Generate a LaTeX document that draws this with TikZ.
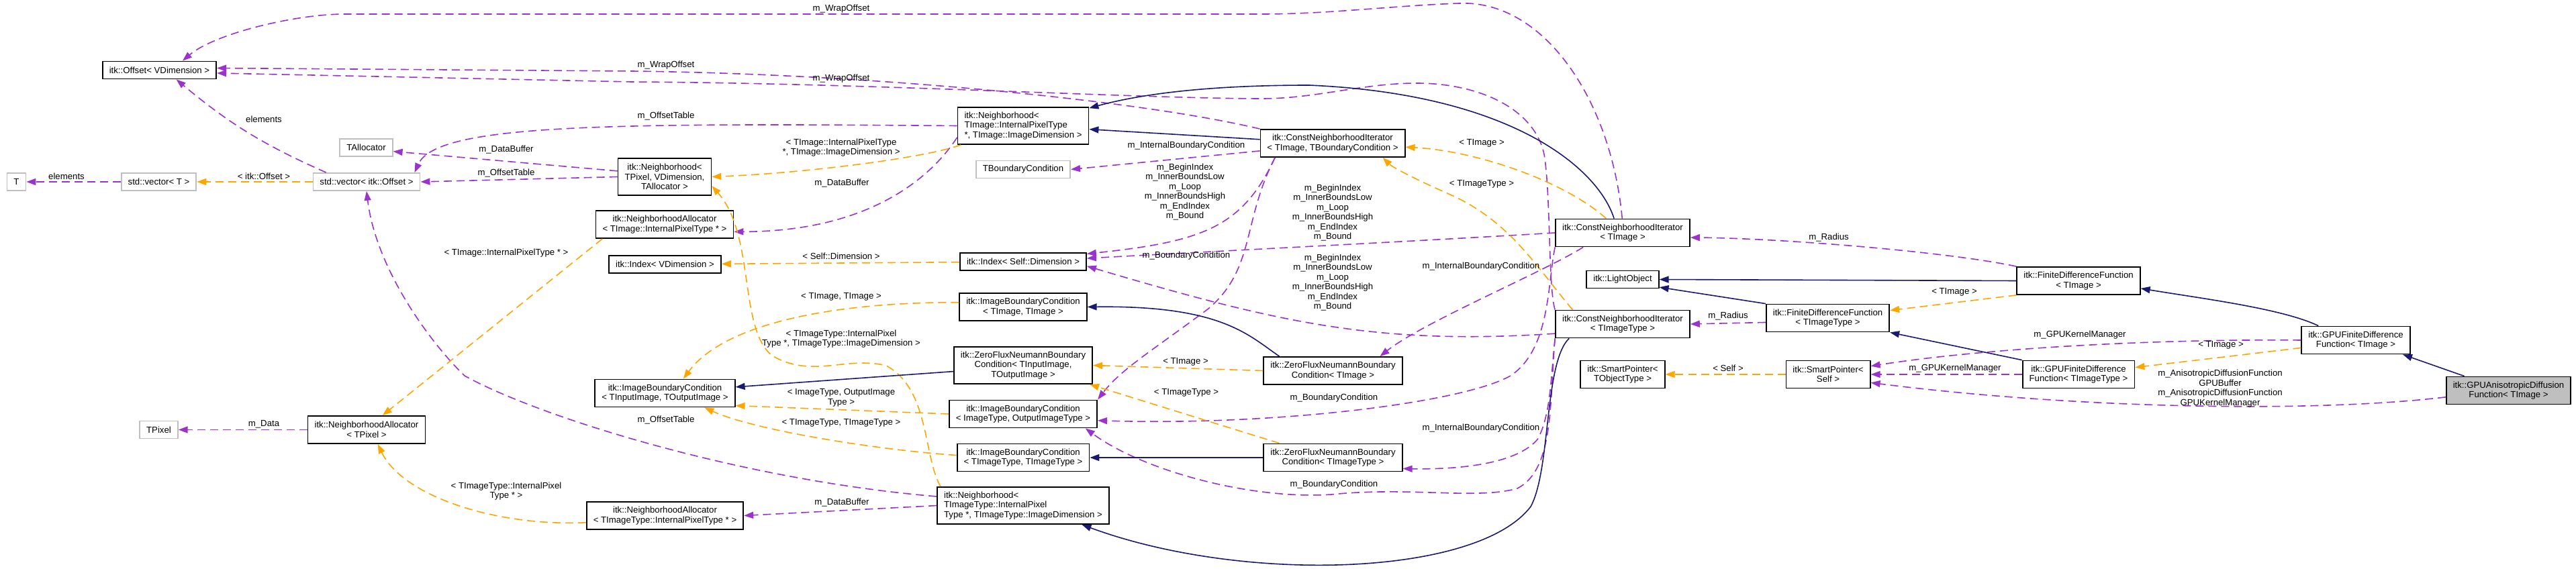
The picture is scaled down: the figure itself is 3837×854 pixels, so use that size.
\documentclass[tikz,border=0pt]{standalone}
\usepackage{fontspec}
\setmainfont{Liberation Sans}
\usetikzlibrary{arrows.meta}
\usepackage{xcolor}
\definecolor{roxo}{RGB}{154, 50, 205}
\definecolor{laranja}{RGB}{255, 165, 0}
\definecolor{azul}{RGB}{25, 25, 112}
\definecolor{cinza}{RGB}{191, 191, 191}
\tikzset{
  classe/.style={
    draw=black, line width=0.9pt, fill=white, rectangle, inner xsep=5pt, inner ysep=2pt,
    minimum height=13pt, align=center, font=\fontsize{6.6}{7.25}\selectfont
  },
  classeCinza/.style={classe, draw=cinza},
  classeDestaque/.style={classe, fill=cinza},
  duas/.style={minimum height=20.5pt},
  tres/.style={minimum height=27.5pt},
  rotulo/.style={inner sep=0pt, align=center, font=\fontsize{6.6}{7.25}\selectfont},
  ponta/.style={-{Stealth[length=7pt, width=5pt, inset=0pt]}, line width=0.8pt},
  uso/.style={ponta, roxo, dash pattern=on 6pt off 3.5pt},
  modelo/.style={ponta, laranja, dash pattern=on 6pt off 3.5pt},
  heranca/.style={ponta, azul},
}

\begin{document}
\begin{tikzpicture}[x=0.5pt, y=-0.5pt]
        \useasboundingbox (0,0) rectangle (3837,854);

        \node[classeCinza] (nT) at (24.5,271) {T};
        \node[classeCinza] (vecT) at (236.5,271) {std::vector< T >};
        \node[classeCinza] (vecOff) at (546,271) {std::vector< itk::Offset >};
        \node[classe] (offV) at (237.5,104.5) {itk::Offset< VDimension >};
        \node[classeCinza] (tAlloc) at (545.5,220) {TAllocator};
        \node[classeCinza] (tPix) at (236.5,640.5) {TPixel};
        \node[classe, duas] (naPix) at (546,640.5) {itk::NeighborhoodAllocator\\< TPixel >};

        \node[classe, tres] (nbhPix) at (990,263.5) {itk::Neighborhood<\\TPixel, VDimension,\\TAllocator >};
        \node[classe, duas] (naImg) at (990,334.5) {itk::NeighborhoodAllocator\\< TImage::InternalPixelType * >};
        \node[classe] (idxV) at (990.5,394) {itk::Index< VDimension >};
        \node[classe, duas] (ibcIO) at (990.5,586) {itk::ImageBoundaryCondition\\< TInputImage, TOutputImage >};
        \node[classe, duas] (naImgT) at (990.5,768.5) {itk::NeighborhoodAllocator\\< TImageType::InternalPixelType * >};

        \node[classe, tres, align=left] (nbhImg) at (1524,187.5) {itk::Neighborhood<\\TImage::InternalPixelType\\*, TImage::ImageDimension >};
        \node[classeCinza] (tBC) at (1524,252.5) {TBoundaryCondition};
        \node[classe] (idxSelf) at (1524,390) {itk::Index< Self::Dimension >};
        \node[classe, duas] (ibcII) at (1524,457.5) {itk::ImageBoundaryCondition\\< TImage, TImage >};
        \node[classe, tres] (zfIO) at (1524,544.5) {itk::ZeroFluxNeumannBoundary\\Condition< TInputImage,\\TOutputImage >};
        \node[classe, duas] (ibcOut) at (1524,617) {itk::ImageBoundaryCondition\\< ImageType, OutputImageType >};
        \node[classe, duas] (ibcTT) at (1524,682) {itk::ImageBoundaryCondition\\< TImageType, TImageType >};
        \node[classe, tres, align=left] (nbhImgT) at (1524,753.5) {itk::Neighborhood<\\TImageType::InternalPixel\\Type *, TImageType::ImageDimension >};

        \node[classe, duas] (cniBC) at (1985,213.5) {itk::ConstNeighborhoodIterator\\< TImage, TBoundaryCondition >};
        \node[classe, duas] (zfImg) at (1985.5,552.5) {itk::ZeroFluxNeumannBoundary\\Condition< TImage >};
        \node[classe, duas] (zfImgT) at (1985.5,682) {itk::ZeroFluxNeumannBoundary\\Condition< TImageType >};

        \node[classe, duas] (cniImg) at (2417,347) {itk::ConstNeighborhoodIterator\\< TImage >};
        \node[classe] (lightObj) at (2417,416.5) {itk::LightObject};
        \node[classe, duas] (cniImgT) at (2417,483) {itk::ConstNeighborhoodIterator\\< TImageType >};
        \node[classe, duas] (spObj) at (2417,558) {itk::SmartPointer<\\TObjectType >};
        \node[classe, duas] (fdfImgT) at (2722.5,474) {itk::FiniteDifferenceFunction\\< TImageType >};
        \node[classe, duas] (spSelf) at (2723,558) {itk::SmartPointer<\\Self >};
        \node[classe, duas] (fdfImg) at (3096,418.5) {itk::FiniteDifferenceFunction\\< TImage >};
        \node[classe, duas] (gfdfImgT) at (3096,558) {itk::GPUFiniteDifference\\Function< TImageType >};
        \node[classe, duas] (gfdfImg) at (3509,507) {itk::GPUFiniteDifference\\Function< TImage >};
        \node[classeDestaque, duas] (gAniso) at (3736.5,582) {itk::GPUAnisotropicDiffusion\\Function< TImage >};

        % membros (roxo)
        \draw[uso] (vecT) -- (nT);
        \draw[uso] (vecOff.167) to[bend left=8] (offV.-29);
        \draw[uso] (nbhPix.west) -- (vecOff.east);
        \draw[uso] (nbhPix.173) -- (tAlloc.-8);
        \draw[uso] (nbhImg.west) .. controls (900,183) and (650,185) .. (vecOff.11);
        \draw[uso] (nbhImg.190) .. controls (1390,260) and (1300,345) .. (naImg.-6);
        \draw[uso] (nbhImgT.174) .. controls (1100,715) and (800,620) .. (692,560) .. controls (640,510) and (560,400) .. (vecOff.south);
        \draw[uso] (nbhImgT.west) -- (naImgT.east);
        \draw[uso] (naPix) -- (tPix);
        \draw[uso] (cniImg.92) .. controls (2400,150) and (2300,0) .. (2174,5) .. controls (2080,8) and (1980,21) .. (1880,21) -- (514,21) .. controls (440,21) and (320,50) .. (offV.22);
        \draw[uso] (cniBC.north west) .. controls (1700,150) and (1300,110) .. (940,106) -- (offV.2);
        \draw[uso] (cniImgT.north west) .. controls (2306,430) and (2310,290) .. (2300,230) .. controls (2285,160) and (2200,124) .. (2110,124) .. controls (2030,124) and (1960,147) .. (1880,147) .. controls (1700,147) and (1300,124) .. (940,122) -- (offV.-3);
        \draw[uso] (cniBC.186) -- (tBC.east);
        \draw[uso] (cniBC.194) .. controls (1850,340) and (1790,360) .. (idxSelf.7);
        \draw[uso] (cniImg.west) .. controls (2100,360) and (1800,375) .. (idxSelf.3);
        \draw[uso] (cniImgT.188) .. controls (2050,515) and (1900,480) .. (idxSelf.-4);
        \draw[uso] (cniBC.194) .. controls (1850,330) and (1870,400) .. (1800,460) .. controls (1720,520) and (1670,550) .. (ibcOut.north east);
        \draw[uso] (cniImg.south west) .. controls (2305,420) and (2310,520) .. (2250,560) .. controls (2180,600) and (1900,635) .. (ibcOut.-5);
        \draw[uso] (cniImg.200) .. controls (2300,405) and (2120,480) .. (zfImg.17);
        \draw[uso] (cniImgT.south west) .. controls (2310,560) and (2310,620) .. (2290,655) .. controls (2260,690) and (2180,700) .. (zfImgT.-9);
        \draw[uso] (cniImgT.south west) .. controls (2308,600) and (2315,700) .. (2260,728) .. controls (2200,745) and (2100,725) .. (1983,737) .. controls (1860,745) and (1700,700) .. (ibcOut.-13);
        \draw[uso] (fdfImg.north west) .. controls (2900,375) and (2650,355) .. (cniImg.-4);
        \draw[uso] (fdfImgT.184) -- (cniImgT.east);
        \draw[uso] (gfdfImgT) -- (spSelf);
        \draw[uso] (gfdfImg.west) .. controls (3200,505) and (2950,520) .. (spSelf.11);
        \draw[uso] (gAniso.186) .. controls (3450,615) and (3100,610) .. (spSelf.-11);

        % instancias de template (laranja)
        \draw[modelo] (vecOff) -- (vecT);
        \draw[modelo] (nbhImg.197) .. controls (1380,235) and (1200,258) .. (nbhPix.east);
        \draw[modelo] (nbhImgT.167) .. controls (1375,680) and (1385,580) .. (1320,545) .. controls (1260,530) and (1210,565) .. (1150,530) .. controls (1100,490) and (1125,350) .. (nbhPix.-11);
        \draw[modelo] (naImg.193) -- (naPix.42);
        \draw[modelo] (naImgT.185) .. controls (740,785) and (600,740) .. (naPix.-52);
        \draw[modelo] (idxSelf) -- (idxV);
        \draw[modelo] (ibcII.176) .. controls (1250,450) and (1080,480) .. (ibcIO.38);
        \draw[modelo] (ibcOut.west) -- (ibcIO.-10);
        \draw[modelo] (ibcTT.178) .. controls (1300,670) and (1120,640) .. (ibcIO.-20);
        \draw[modelo] (zfImg.west) -- (zfIO.east);
        \draw[modelo] (zfImgT.165) -- (zfIO.-16);
        \draw[modelo] (cniImg.139) .. controls (2330,270) and (2200,225) .. (cniBC.-3);
        \draw[modelo] (cniImgT.164) .. controls (2290,400) and (2250,330) .. (2160,290) .. controls (2110,268) and (2075,250) .. (cniBC.-16);
        \draw[modelo] (fdfImg.south west) -- (fdfImgT.7);
        \draw[modelo] (gfdfImg.188) -- (gfdfImgT.7);
        \draw[modelo] (spSelf) -- (spObj);

        % heranca (azul)
        \draw[heranca] (cniBC.177) -- (nbhImg.-3);
        \draw[heranca] (cniImg.121) .. controls (2380,250) and (2250,140) .. (1950,127) .. controls (1800,127) and (1700,140) .. (nbhImg.15);
        \draw[heranca] (cniImgT.195) .. controls (2300,540) and (2310,700) .. (2280,755) .. controls (2200,860) and (1850,870) .. (nbhImgT.-18);
        \draw[heranca] (zfIO.185) -- (ibcIO.5);
        \draw[heranca] (zfImg.165) .. controls (1860,500) and (1820,455) .. (ibcII.east);
        \draw[heranca] (zfImgT) -- (ibcTT);
        \draw[heranca] (fdfImg.west) -- (lightObj.east);
        \draw[heranca] (fdfImgT.north west) -- (lightObj.-12);
        \draw[heranca] (gfdfImgT.north west) -- (fdfImgT.south east);
        \draw[heranca] (gfdfImg.159) .. controls (3400,460) and (3280,445) .. (fdfImg.-7);
        \draw[heranca] (gAniso.162) -- (gfdfImg.-17);

        % rotulos
        \node[rotulo] (lEl1) at (99,263) {elements};
        \node[rotulo] (lEl2) at (393,178) {elements};
        \node[rotulo] (lTOff) at (393,263) {< itk::Offset >};
        \node[rotulo] (lDataBuf1) at (754,223) {m\_DataBuffer};
        \node[rotulo] (lOffTab1) at (754,258) {m\_OffsetTable};
        \node[rotulo] (lTAl1) at (754,377) {< TImage::InternalPixelType * >};
        \node[rotulo] (lData) at (393,632) {m\_Data};
        \node[rotulo] (lTAl2) at (754,732) {< TImageType::InternalPixel\\Type * >};
        \node[rotulo] (lWrap1) at (1253,13) {m\_WrapOffset};
        \node[rotulo] (lWrap2) at (992,97) {m\_WrapOffset};
        \node[rotulo] (lWrap3) at (1253,117) {m\_WrapOffset};
        \node[rotulo] (lOffTab2) at (992,173) {m\_OffsetTable};
        \node[rotulo] (lTNbh1) at (1253,220) {< TImage::InternalPixelType\\*, TImage::ImageDimension >};
        \node[rotulo] (lDataBuf2) at (1254,273) {m\_DataBuffer};
        \node[rotulo] (lTDim) at (1253,382) {< Self::Dimension >};
        \node[rotulo] (lTII) at (1253,442) {< TImage, TImage >};
        \node[rotulo] (lTNbh2) at (1253,505) {< TImageType::InternalPixel\\Type *, TImageType::ImageDimension >};
        \node[rotulo] (lTIO) at (1253,593) {< ImageType, OutputImage\\Type >};
        \node[rotulo] (lOffTab3) at (992,626) {m\_OffsetTable};
        \node[rotulo] (lTTT) at (1253,630) {< TImageType, TImageType >};
        \node[rotulo] (lDataBuf3) at (1254,749) {m\_DataBuffer};
        \node[rotulo] (lIntBC1) at (1767,217) {m\_InternalBoundaryCondition};
        \node[rotulo] (lIdx1) at (1765,286) {m\_BeginIndex\\m\_InnerBoundsLow\\m\_Loop\\m\_InnerBoundsHigh\\m\_EndIndex\\m\_Bound};
        \node[rotulo] (lIdx2) at (1985,317) {m\_BeginIndex\\m\_InnerBoundsLow\\m\_Loop\\m\_InnerBoundsHigh\\m\_EndIndex\\m\_Bound};
        \node[rotulo] (lIdx3) at (1985,421) {m\_BeginIndex\\m\_InnerBoundsLow\\m\_Loop\\m\_InnerBoundsHigh\\m\_EndIndex\\m\_Bound};
        \node[rotulo] (lBC1) at (1767,381) {m\_BoundaryCondition};
        \node[rotulo] (lTZf1) at (1766,539) {< TImage >};
        \node[rotulo] (lTZf2) at (1767,585) {< TImageType >};
        \node[rotulo] (lBC2) at (1987,593) {m\_BoundaryCondition};
        \node[rotulo] (lBC3) at (1987,722) {m\_BoundaryCondition};
        \node[rotulo] (lTCni1) at (2207,213) {< TImage >};
        \node[rotulo] (lTCni2) at (2207,274) {< TImageType >};
        \node[rotulo] (lIntBC2) at (2206,397) {m\_InternalBoundaryCondition};
        \node[rotulo] (lIntBC3) at (2206,638) {m\_InternalBoundaryCondition};
        \node[rotulo] (lRad1) at (2724,354) {m\_Radius};
        \node[rotulo] (lRad2) at (2574,471) {m\_Radius};
        \node[rotulo] (lTSelf) at (2574,549) {< Self >};
        \node[rotulo] (lTFdf) at (2911,435) {< TImage >};
        \node[rotulo] (lGKM1) at (2912,549) {m\_GPUKernelManager};
        \node[rotulo] (lGKM2) at (3098,499) {m\_GPUKernelManager};
        \node[rotulo] (lTGfdf) at (3308,514) {< TImage >};
        \node[rotulo] (lAniso) at (3307,579) {m\_AnisotropicDiffusionFunction\\GPUBuffer\\m\_AnisotropicDiffusionFunction\\GPUKernelManager};
\end{tikzpicture}
\end{document}
